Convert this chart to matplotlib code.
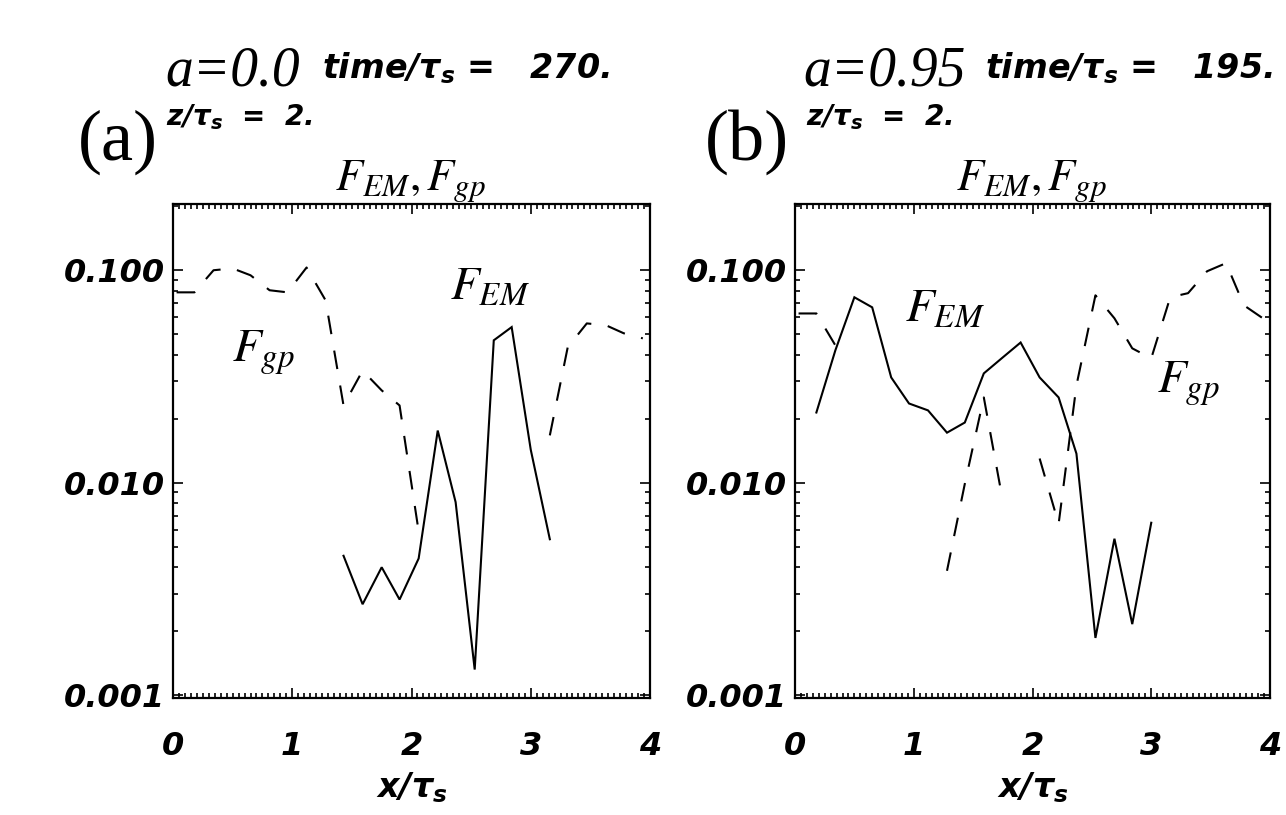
import numpy as np
import matplotlib.pyplot as plt
from matplotlib.ticker import MultipleLocator, LogLocator, FixedLocator, FixedFormatter, NullFormatter

# bold italic sans for the IDL-like labels, stix for the F labels
plt.rcParams['mathtext.fontset'] = 'custom'
plt.rcParams['mathtext.it'] = 'DejaVu Sans:italic:bold'
plt.rcParams['mathtext.rm'] = 'DejaVu Sans:italic:bold'
plt.rcParams['mathtext.bf'] = 'DejaVu Sans:italic:bold'

# x grid (x / r_s)
x_grid = [0.03, 0.18, 0.34, 0.50, 0.65, 0.81, 0.96, 1.12, 1.28, 1.43, 1.59, 1.75, 1.90,
          2.06, 2.22, 2.37, 2.53, 2.69, 2.84, 3.00, 3.16, 3.31, 3.47, 3.63, 3.78, 3.94]
nan = np.nan

# (a) a=0.0
fgp_a = [0.0787, 0.0787, 0.100, 0.102, 0.0947, 0.0805, 0.0787, 0.103, 0.0721, 0.0231,
         0.0337, 0.0272, 0.0231, 0.0059, nan, nan, nan, nan, nan, nan,
         0.0167, 0.0434, 0.0562, 0.0551, 0.0505, 0.0478]
fem_a = [nan, nan, nan, nan, nan, nan, nan, nan, nan, 0.00453,
         0.00268, 0.0040, 0.00282, 0.0044, 0.0176, 0.0081, 0.00132, 0.0468, 0.054, 0.0143,
         0.00542, nan, nan, nan, nan, nan]

# (b) a=0.95
fgp_b = [0.0626, 0.0626, 0.0443, nan, nan, nan, nan, nan, 0.00385, 0.00988,
         0.0252, 0.0082, nan, 0.0130, 0.0064, 0.0287, 0.0762, 0.0594, 0.0429, 0.0385,
         0.0746, 0.078, 0.0989, 0.108, 0.0684, 0.0594]
fem_b = [nan, 0.0214, 0.042, 0.0746, 0.0669, 0.0313, 0.0236, 0.0219, 0.0172, 0.0192,
         0.0327, 0.0389, 0.0457, 0.0313, 0.0252, 0.0137, 0.00186, 0.00545, 0.00216, 0.00648,
         nan, nan, nan, nan, nan, nan]

x_ticks = [0, 1, 2, 3, 4]
y_ticks = [0.001, 0.01, 0.1]
y_labels = ['0.001', '0.010', '0.100']

W, H = 1286, 815
fig = plt.figure(figsize=(W / 100, H / 100), dpi=100)


def ftext(x, y, s, **kw):
    fig.text(x / W, 1 - y / H, s, va='baseline', **kw)


def panel(left, width, fem, fgp):
    ax = fig.add_axes([left / W, 1 - 698 / H, width / W, 494 / H])
    ax.plot(x_grid, fem, color='black', lw=1.5, solid_joinstyle='miter')
    ax.plot(x_grid, fgp, color='black', lw=1.5, linestyle=(0, (9, 8)))
    ax.set_yscale('log')
    ax.set_xlim(0, 4)
    ax.set_ylim(0.00097, 0.205)
    ax.xaxis.set_major_locator(FixedLocator(x_ticks))
    ax.xaxis.set_minor_locator(MultipleLocator(0.05))
    ax.yaxis.set_major_locator(FixedLocator(y_ticks))
    ax.yaxis.set_major_formatter(FixedFormatter(y_labels))
    ax.yaxis.set_minor_locator(LogLocator(base=10, subs=np.arange(2, 10)))
    ax.yaxis.set_minor_formatter(NullFormatter())
    ax.tick_params(which='both', direction='in', top=True, right=True, width=1.2)
    ax.tick_params(which='major', length=7)
    ax.tick_params(which='minor', length=3.5)
    ax.tick_params(axis='x', which='major', pad=24)
    ax.tick_params(axis='y', which='major', pad=6)
    for lab in ax.get_xticklabels() + ax.get_yticklabels():
        lab.set_fontsize(23)
        lab.set_fontweight('bold')
        lab.set_fontstyle('italic')
    for s in ax.spines.values():
        s.set_linewidth(1.6)
    ax.set_xlabel(r'$x/\tau_s$', fontsize=24, labelpad=6, math_fontfamily='custom')
    return ax


ax_a = panel(173, 477, fem_a, fgp_a)
ax_b = panel(795, 475, fem_b, fgp_b)

# panel headers
serif = 'Liberation Serif'
ftext(165, 86, 'a=0.0', fontsize=40, family=serif, style='italic')
ftext(322, 78, r'$time/\tau_s$ =   270.', fontsize=24, fontweight='bold', style='italic',
      math_fontfamily='custom')
ftext(78, 160, '(a)', fontsize=52, family=serif)
ftext(166, 125, r'$z/\tau_s$  =  2.', fontsize=20, fontweight='bold', style='italic',
      math_fontfamily='custom')
ftext(411, 190, r'$F_{EM}, F_{gp}$', fontsize=32, ha='center', math_fontfamily='stix')

ftext(803, 86, 'a=0.95', fontsize=40, family=serif, style='italic')
ftext(985, 78, r'$time/\tau_s$ =   195.', fontsize=24, fontweight='bold', style='italic',
      math_fontfamily='custom')
ftext(705, 160, '(b)', fontsize=52, family=serif)
ftext(806, 125, r'$z/\tau_s$  =  2.', fontsize=20, fontweight='bold', style='italic',
      math_fontfamily='custom')
ftext(1032, 190, r'$F_{EM}, F_{gp}$', fontsize=32, ha='center', math_fontfamily='stix')

# curve labels inside the panels
ftext(450, 300, r'$F_{EM}$', fontsize=34, math_fontfamily='stix')
ftext(232, 362, r'$F_{gp}$', fontsize=34, math_fontfamily='stix')
ftext(905, 322, r'$F_{EM}$', fontsize=34, math_fontfamily='stix')
ftext(1157, 393, r'$F_{gp}$', fontsize=34, math_fontfamily='stix')

fig.savefig('out.png', dpi=100)
